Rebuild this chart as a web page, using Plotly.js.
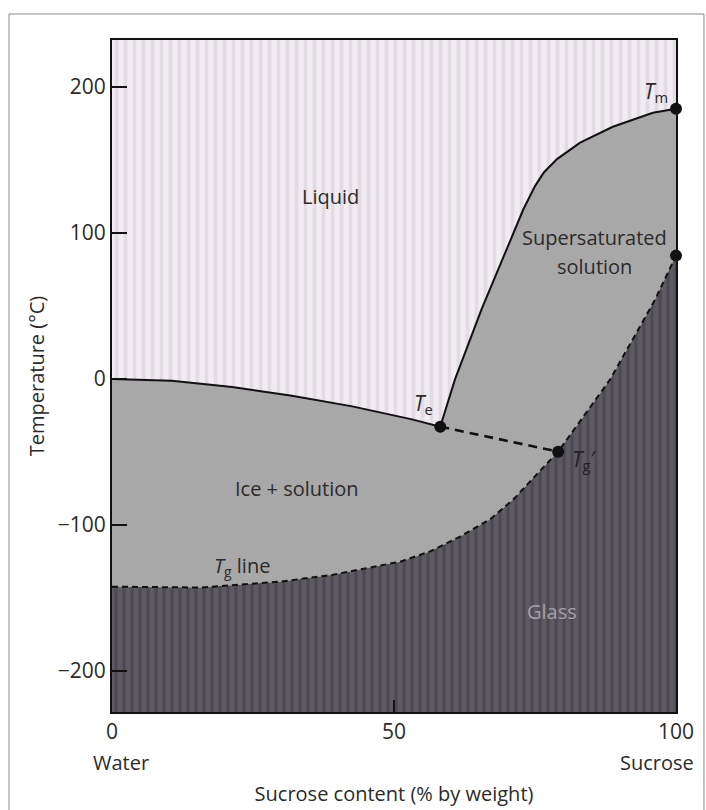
<!DOCTYPE html>
<html>
<head>
<meta charset="utf-8">
<script src="https://cdn.plot.ly/plotly-3.0.1.min.js"></script>
<style>html,body{margin:0;padding:0;background:#fff;}#chart{width:706px;height:810px;}</style>
</head>
<body>
<div id="chart"></div>
<script>
// Ice melting curve (liquidus), water -> eutectic Te
const liqX = [0, 10.6, 21.3, 31.9, 42.6, 53.2, 58.2];
const liqT = [0, -1.3, -5.6, -11.5, -18.8, -27.7, -32.7];
// Sucrose solubility curve, Te -> Tm
const solX = [58.2, 60.8, 65.5, 68.2, 70.6, 72.9, 75.0, 76.6, 78.9, 83.0, 88.8, 95.9, 100];
const solT = [-32.7, -0.5, 47.4, 72.7, 95.3, 115.8, 132.0, 141.5, 150.5, 161.7, 172.6, 182.2, 185];
// Glass transition (Tg) line
const tgX = [0, 15.6, 29.8, 39.2, 51.1, 56.4, 61.7, 67.0, 71.1, 79.1, 88.3, 96.3, 100];
const tgT = [-142.2, -142.8, -138.8, -134.0, -125.1, -118.1, -108.0, -96.2, -82.7, -49.8, -0.5, 54.3, 84.4];
// Special points
const ptNames = ['Te', "Tg'", 'Tm', 'Tg sucrose'];
const ptX = [58.2, 79.1, 100, 100];
const ptT = [-32.7, -49.8, 185, 84.4];
// Axis ticks
const xTicks = [0, 50, 100];
const xTickText = ['0', '50', '100'];
const yTicks = [-200, -100, 0, 100, 200];
const yTickText = ['\u2212200', '\u2212100', '0', '100', '200'];
const xRange = [0, 100];
const yRange = [-228, 232];

const FONT = 'Open Sans, Lato, sans-serif';
const TXT = '#2b2b2b';

// Region polygons built from the curves
const liquidX = liqX.concat(solX.slice(1), [xRange[1], xRange[0]]);
const liquidY = liqT.concat(solT.slice(1), [yRange[1], yRange[1]]);
const midX = liqX.concat(solX.slice(1), tgX.slice().reverse());
const midY = liqT.concat(solT.slice(1), tgT.slice().reverse());
const glassX = tgX.concat([xRange[1], xRange[0]]);
const glassY = tgT.concat([yRange[0], yRange[0]]);

const traces = [
  {x: liquidX, y: liquidY, mode: 'none', fill: 'toself', fillcolor: '#eeebef',
   fillpattern: {shape: '|', bgcolor: '#f0edf0', fgcolor: '#e4dae6', size: 9, solidity: 0.4},
   hoverinfo: 'skip', showlegend: false},
  {x: midX, y: midY, mode: 'none', fill: 'toself', fillcolor: '#a8a8a8',
   hoverinfo: 'skip', showlegend: false},
  {x: glassX, y: glassY, mode: 'none', fill: 'toself', fillcolor: '#5a585e',
   fillpattern: {shape: '|', bgcolor: '#5d5b61', fgcolor: '#4c4952', size: 8, solidity: 0.4},
   hoverinfo: 'skip', showlegend: false},
  {x: liqX, y: liqT, mode: 'lines', line: {color: '#111', width: 2}, showlegend: false},
  {x: solX, y: solT, mode: 'lines', line: {color: '#111', width: 2}, showlegend: false},
  {x: tgX, y: tgT, mode: 'lines', line: {color: '#111', width: 2, dash: '6px,4px'}, showlegend: false},
  {x: [ptX[0], ptX[1]], y: [ptT[0], ptT[1]], mode: 'lines', line: {color: '#111', width: 2.6, dash: '9px,6px'}, showlegend: false},
  {x: ptX, y: ptT, text: ptNames, mode: 'markers', marker: {color: '#111', size: 12}, cliponaxis: false, showlegend: false}
];

function ann(x, y, text, extra) {
  return Object.assign({x: x, y: y, xref: 'x', yref: 'y', text: text, showarrow: false,
    font: {family: FONT, size: 20, color: TXT}}, extra || {});
}

const layout = {
  width: 706, height: 810,
  margin: {l: 112, r: 30, t: 40, b: 98},
  paper_bgcolor: '#ffffff',
  plot_bgcolor: '#eeebef',
  font: {family: FONT, size: 20, color: TXT},
  showlegend: false,
  xaxis: {
    range: xRange, tickvals: xTicks, ticktext: xTickText,
    ticks: 'inside', ticklen: 12, tickwidth: 1.5, tickcolor: '#111',
    showline: true, mirror: true, linecolor: '#111', linewidth: 2,
    showgrid: false, zeroline: false, fixedrange: true,
    tickfont: {family: FONT, size: 21, color: TXT},
    title: {text: 'Sucrose content (% by weight)', font: {family: FONT, size: 20, color: TXT}, standoff: 43}
  },
  yaxis: {
    range: yRange, tickvals: yTicks, ticktext: yTickText,
    ticks: 'inside', ticklen: 15, tickwidth: 2, tickcolor: '#111',
    showline: true, mirror: true, linecolor: '#111', linewidth: 2,
    showgrid: false, zeroline: false, fixedrange: true,
    tickfont: {family: FONT, size: 21, color: TXT},
    title: {text: 'Temperature (\u00B0C)', font: {family: FONT, size: 20, color: TXT}, standoff: 8}
  },
  annotations: [
    ann(38.7, 124.7, 'Liquid'),
    ann(85.5, 96.6, 'Supersaturated'),
    ann(85.5, 76.8, 'solution'),
    ann(32.8, -75, 'Ice + solution'),
    ann(78.0, -159, 'Glass', {font: {family: FONT, size: 20, color: '#a3a1a8'}}),
    ann(23.0, -128.6, '<i>T</i><sub>g</sub> line'),
    ann(55.2, -17.5, '<i>T</i><sub>e</sub>', {font: {family: FONT, size: 21, color: TXT}}),
    ann(83.6, -55.5, "<i>T</i><sub>g</sub>\u2032", {font: {family: FONT, size: 21, color: '#222'}}),
    ann(96.4, 196.5, '<i>T</i><sub>m</sub>', {font: {family: FONT, size: 21, color: TXT}}),
    {x: 0, y: 0, xref: 'paper', yref: 'paper', yshift: -50, xanchor: 'center', yanchor: 'middle',
     xshift: 9, text: 'Water', showarrow: false, font: {family: FONT, size: 20, color: TXT}},
    {x: 1, y: 0, xref: 'paper', yref: 'paper', yshift: -50, xanchor: 'center', yanchor: 'middle',
     xshift: -19, text: 'Sucrose', showarrow: false, font: {family: FONT, size: 20, color: TXT}}
  ],
  shapes: [
    {type: 'rect', xref: 'paper', yref: 'paper', x0: -0.1826, x1: 1.0496, y0: -0.1607, y1: 1.0387,
     line: {color: '#8a8a8a', width: 1}, fillcolor: 'rgba(0,0,0,0)', layer: 'below'}
  ]
};

Plotly.newPlot('chart', traces, layout, {staticPlot: true, displayModeBar: false});
</script>
</body>
</html>
